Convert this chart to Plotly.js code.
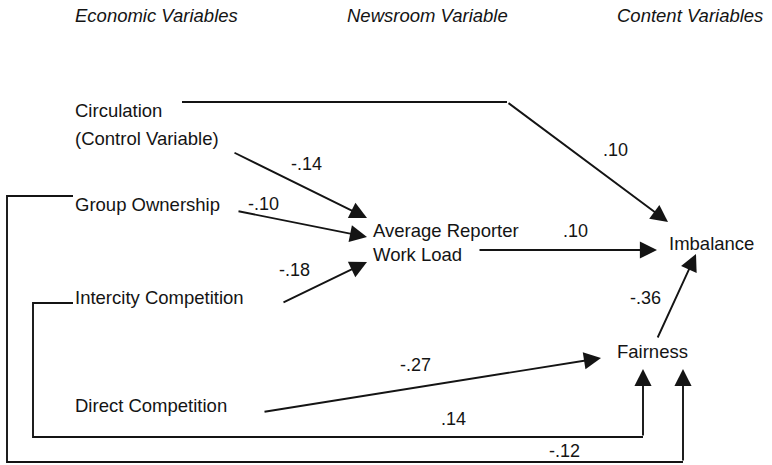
<!DOCTYPE html>
<html>
<head>
<meta charset="utf-8">
<script src="https://cdn.plot.ly/plotly-3.0.1.min.js"></script>
<style>html,body{margin:0;padding:0;background:#fff;}#chart{width:772px;height:465px;}</style>
</head>
<body>
<div id="chart"></div>
<script>
// ---- data ----
const headers = ["Economic Variables", "Newsroom Variable", "Content Variables"];
const nodeLabels = ["Circulation", "(Control Variable)", "Group Ownership", "Intercity Competition",
                    "Direct Competition", "Average Reporter", "Work Load", "Imbalance", "Fairness"];
const pathNames = ["Circulation→Imbalance", "Circulation→Work Load", "Group Ownership→Work Load",
                   "Intercity→Work Load", "Work Load→Imbalance", "Fairness→Imbalance",
                   "Direct Competition→Fairness", "Intercity→Fairness", "Group Ownership→Fairness"];
const coefficients = [0.10, -0.14, -0.10, -0.18, 0.10, -0.36, -0.27, 0.14, -0.12];

// ---- layout (positions, separate from data) ----
const headerPos = [[73, 15], [345, 15], [615, 15]];
const nodePos = [[73, 110], [73, 138], [73, 204], [73, 297], [73, 405], [371, 230], [371, 254], [667, 243], [615, 351]];
const coefPos = [[615, 150], [306, 164], [263, 204], [294, 270], [575, 231], [645, 298], [415, 365], [453, 419], [564, 451]];
// polyline segments before the arrow (tail path) and arrow [tailX, tailY, tipX, tipY]
const prePaths = [
  [[182, 102], [507, 102]], null, null, null, null, null, null,
  [[73, 303], [33, 303], [33, 437], [643, 437]],
  [[73, 196], [7, 196], [7, 462], [683, 462]]
];
const arrows = [
  [507, 102, 668, 222], [233, 152, 367, 218], [237, 211, 367, 237], [282, 303, 367, 262],
  [478, 250, 657, 250], [657, 339, 696, 254], [263, 412, 601, 358], [643, 437, 643, 369], [683, 462, 683, 369]
];

function fmt(v) {
  const s = Math.abs(v).toFixed(2).replace(/^0/, "");
  return (v < 0 ? "-" : "") + s;
}

const ink = "#141414";
const fontFam = "Liberation Sans, Arial, Helvetica, sans-serif";
const annotations = [];
const shapes = [];

headers.forEach((h, i) => annotations.push({
  x: headerPos[i][0], y: headerPos[i][1], xref: "x", yref: "y", xanchor: "left", yanchor: "middle",
  text: "<i>" + h + "</i>", showarrow: false, font: {family: fontFam, size: 18.5, color: ink}
}));
nodeLabels.forEach((n, i) => annotations.push({
  x: nodePos[i][0], y: nodePos[i][1], xref: "x", yref: "y", xanchor: "left", yanchor: "middle",
  text: n, showarrow: false, font: {family: fontFam, size: 18.5, color: ink}
}));
coefficients.forEach((c, i) => {
  annotations.push({
    x: coefPos[i][0], y: coefPos[i][1], xref: "x", yref: "y", xanchor: "center", yanchor: "middle",
    text: fmt(c), showarrow: false, font: {family: fontFam, size: 18, color: ink}, name: pathNames[i]
  });
  const pp = prePaths[i];
  if (pp) {
    shapes.push({
      type: "path", xref: "x", yref: "y",
      path: pp.map((p, k) => (k === 0 ? "M" : "L") + p[0] + "," + p[1]).join(" "),
      line: {color: ink, width: 1.9}
    });
  }
  const a = arrows[i];
  annotations.push({
    x: a[2], y: a[3], ax: a[0], ay: a[1], xref: "x", yref: "y", axref: "x", ayref: "y",
    text: "", showarrow: true, arrowhead: 2, arrowsize: 1.8, arrowwidth: 1.9, arrowcolor: ink, standoff: 0, startstandoff: 0
  });
});

const layout = {
  width: 772, height: 465,
  margin: {l: 0, r: 0, t: 0, b: 0},
  paper_bgcolor: "#ffffff", plot_bgcolor: "#ffffff",
  xaxis: {range: [0, 772], visible: false, fixedrange: true},
  yaxis: {range: [465, 0], visible: false, fixedrange: true},
  showlegend: false,
  annotations: annotations,
  shapes: shapes
};

Plotly.newPlot("chart", [{x: [], y: [], type: "scatter", mode: "markers", hoverinfo: "skip"}], layout,
  {displayModeBar: false, staticPlot: true});
</script>
</body>
</html>
